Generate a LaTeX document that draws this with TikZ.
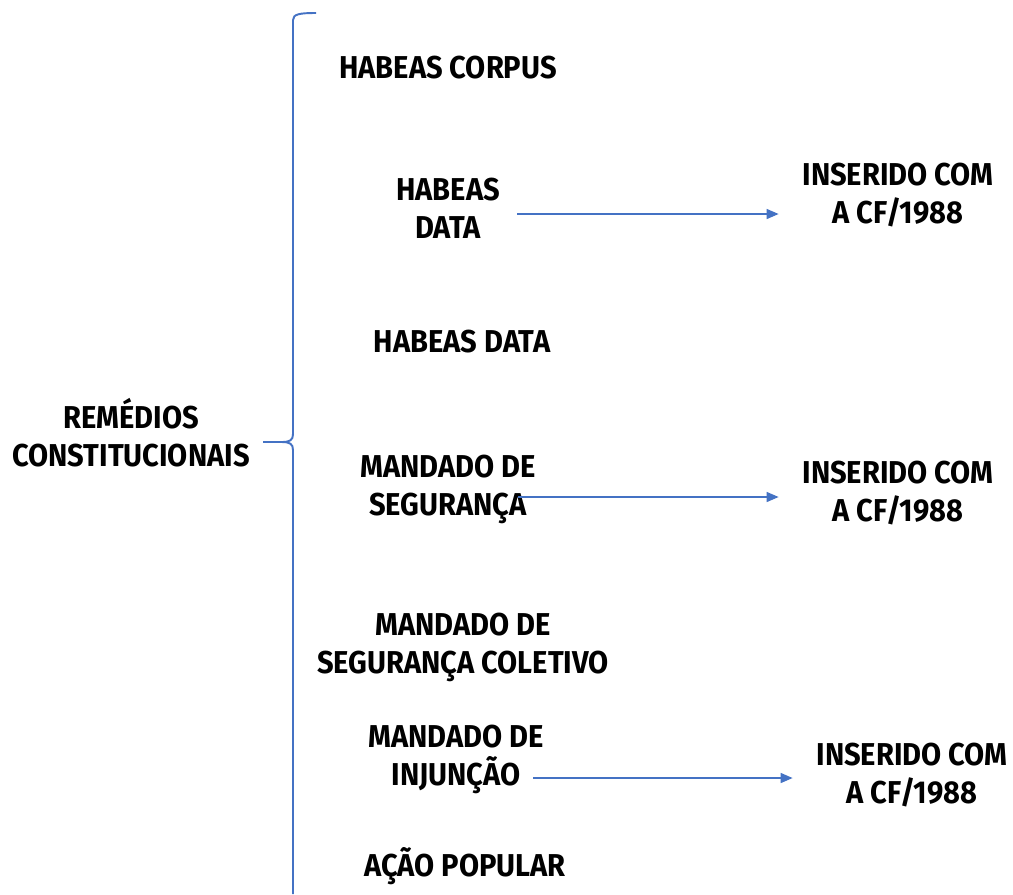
\documentclass[tikz,border=0pt]{standalone}
\usepackage{fontspec}
\setmainfont{Fira Sans}[FakeStretch=0.92]
\usetikzlibrary{arrows.meta}
\definecolor{officeblue}{HTML}{4472C4}

\begin{document}
\begin{tikzpicture}[x=0.02cm,y=-0.02cm,>={Triangle[length=0.24cm,width=0.2cm]},
    item/.style={align=center,font=\bfseries\fontsize{18}{21.6}\selectfont,inner sep=2pt},
    link/.style={->,draw=officeblue,line width=0.8pt}]
  \useasboundingbox (0,0) rectangle (1013,894);
  % brace
  \draw[officeblue,line width=1.1pt] (316,13) .. controls (300,13) and (293,14) .. (293,20)
    -- (293,434) .. controls (293,440) and (290,442) .. (282,442) -- (263,442)
    (282,442) .. controls (290,442) and (293,444) .. (293,450) -- (293,894);
  \node[item] (rc) at (131,433) {REMÉDIOS\\CONSTITUCIONAIS};
  \node[item] (hc) at (448,68) {HABEAS CORPUS};
  \node[item] (hd1) at (448,208) {HABEAS\\DATA};
  \node[item] (hd2) at (462,342) {HABEAS DATA};
  \node[item] (ms) at (448,489) {MANDADO DE\\SEGURANÇA};
  \node[item] (msc) at (463,647) {MANDADO DE\\SEGURANÇA COLETIVO};
  \node[item] (mi) at (456,759) {MANDADO DE\\INJUNÇÃO};
  \node[item] (ap) at (465,866) {AÇÃO POPULAR};
  \node[item] (ins1) at (898,195) {INSERIDO COM\\A CF/1988};
  \node[item] (ins2) at (898,493) {INSERIDO COM\\A CF/1988};
  \node[item] (ins3) at (912,775) {INSERIDO COM\\A CF/1988};
  % arrows
  \coordinate (s1) at (517,214);
  \coordinate (s2) at (518,497);
  \coordinate (s3) at (533,778);
  \draw[link] (s1) -- ([xshift=-0.4cm]s1 -| ins1.west);
  \draw[link] (s2) -- ([xshift=-0.4cm]s2 -| ins2.west);
  \draw[link] (s3) -- ([xshift=-0.4cm]s3 -| ins3.west);
\end{tikzpicture}
\end{document}
